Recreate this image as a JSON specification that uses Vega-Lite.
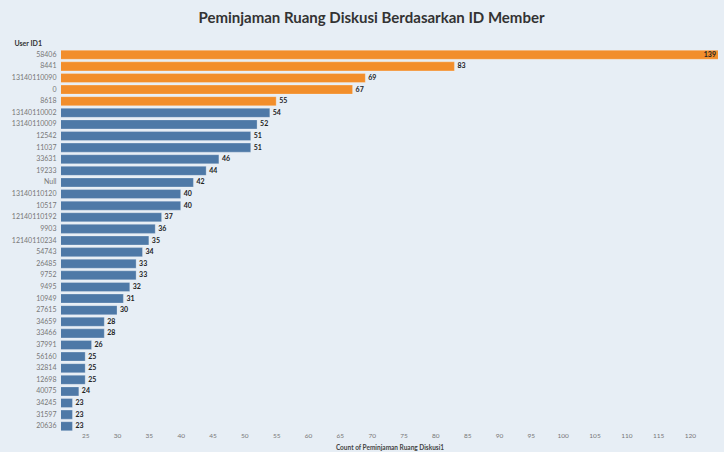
{
  "$schema": "https://vega.github.io/schema/vega-lite/v6.json",
  "width": 657,
  "height": 381,
  "autosize": {"type": "none"},
  "padding": {"left": 61, "top": 50, "right": 6, "bottom": 21},
  "background": "#e7eef5",
  "title": {
    "text": "Peminjaman Ruang Diskusi Berdasarkan ID Member",
    "font": "Lato",
    "fontSize": 15,
    "fontWeight": "bold",
    "color": "#333333",
    "anchor": "middle",
    "dx": -18,
    "offset": 13
  },
  "config": {
    "view": {"stroke": null},
    "font": "Lato",
    "axis": {"labelOverlap": false}
  },
  "data": {
    "values": [
      {"user": "58406", "count": 139, "top": "yes"},
      {"user": "8441", "count": 83, "top": "yes"},
      {"user": "13140110090", "count": 69, "top": "yes"},
      {"user": "0", "count": 67, "top": "yes"},
      {"user": "8618", "count": 55, "top": "yes"},
      {"user": "13140110002", "count": 54, "top": "no"},
      {"user": "13140110009", "count": 52, "top": "no"},
      {"user": "12542", "count": 51, "top": "no"},
      {"user": "11037", "count": 51, "top": "no"},
      {"user": "33631", "count": 46, "top": "no"},
      {"user": "19233", "count": 44, "top": "no"},
      {"user": "Null", "count": 42, "top": "no"},
      {"user": "13140110120", "count": 40, "top": "no"},
      {"user": "10517", "count": 40, "top": "no"},
      {"user": "12140110192", "count": 37, "top": "no"},
      {"user": "9903", "count": 36, "top": "no"},
      {"user": "12140110234", "count": 35, "top": "no"},
      {"user": "54743", "count": 34, "top": "no"},
      {"user": "26485", "count": 33, "top": "no"},
      {"user": "9752", "count": 33, "top": "no"},
      {"user": "9495", "count": 32, "top": "no"},
      {"user": "10949", "count": 31, "top": "no"},
      {"user": "27615", "count": 30, "top": "no"},
      {"user": "34659", "count": 28, "top": "no"},
      {"user": "33466", "count": 28, "top": "no"},
      {"user": "37991", "count": 26, "top": "no"},
      {"user": "56160", "count": 25, "top": "no"},
      {"user": "32814", "count": 25, "top": "no"},
      {"user": "12698", "count": 25, "top": "no"},
      {"user": "40075", "count": 24, "top": "no"},
      {"user": "34245", "count": 23, "top": "no"},
      {"user": "31597", "count": 23, "top": "no"},
      {"user": "20636", "count": 23, "top": "no"}
    ]
  },
  "encoding": {
    "y": {
      "field": "user",
      "type": "nominal",
      "sort": null,
      "scale": {"paddingInner": 0.22, "paddingOuter": 0.02},
      "axis": {
        "title": "User ID1",
        "titleAngle": 0,
        "titleAlign": "left",
        "titleBaseline": "bottom",
        "titleX": -47,
        "titleY": -4,
        "titleFontSize": 7,
        "titleFontWeight": "bold",
        "titleColor": "#333333",
        "labelFontSize": 7,
        "labelColor": "#777777",
        "labelPadding": 5,
        "ticks": false,
        "domain": false
      }
    },
    "x": {
      "field": "count",
      "type": "quantitative",
      "scale": {"domain": [21.2, 124.4], "nice": false, "zero": false},
      "axis": {
        "title": "Count of Peminjaman Ruang Diskusi1",
        "titleFontSize": 6.5,
        "titleFontWeight": "bold",
        "titleColor": "#444444",
        "titlePadding": 6,
        "values": [25, 30, 35, 40, 45, 50, 55, 60, 65, 70, 75, 80, 85, 90, 95, 100, 105, 110, 115, 120],
        "labelFontSize": 6.5,
        "labelColor": "#777777",
        "labelPadding": 1,
        "labelOverlap": false,
        "labelFlush": false,
        "ticks": false,
        "domain": false,
        "grid": false
      }
    }
  },
  "layer": [
    {
      "mark": {"type": "bar", "clip": true, "stroke": "#ffffff", "strokeOpacity": 0.5, "strokeWidth": 0.5},
      "encoding": {
        "color": {
          "field": "top",
          "type": "nominal",
          "scale": {"domain": ["yes", "no"], "range": ["#f28e2b", "#4e79a7"]},
          "legend": null
        }
      }
    },
    {
      "transform": [{"filter": "datum.count <= 124"}],
      "mark": {"type": "text", "align": "left", "dx": 3, "fontSize": 7, "fontWeight": "bold", "color": "#222222"},
      "encoding": {
        "text": {"field": "count", "type": "quantitative"}
      }
    },
    {
      "transform": [{"filter": "datum.count > 124"}],
      "mark": {"type": "text", "align": "right", "dx": -2, "fontSize": 7, "fontWeight": "bold", "color": "#222222"},
      "encoding": {
        "x": {"datum": 124.4, "type": "quantitative"},
        "text": {"field": "count", "type": "quantitative"}
      }
    }
  ]
}
